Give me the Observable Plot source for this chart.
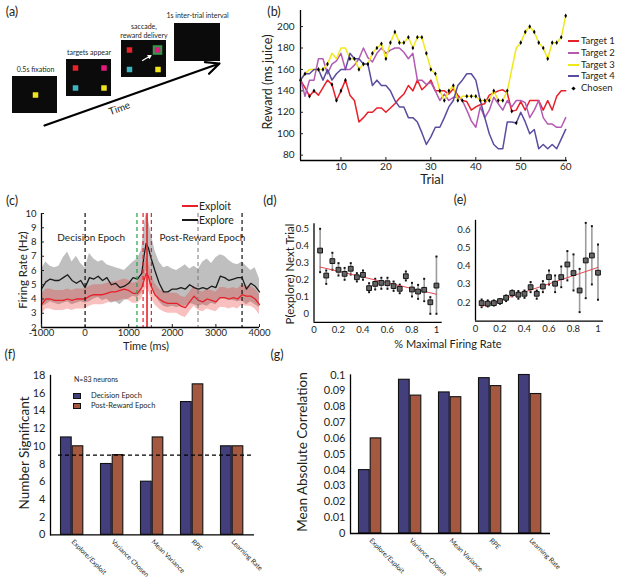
<!DOCTYPE html>
<html>
<head>
<meta charset="utf-8">
<script src="https://cdn.jsdelivr.net/npm/d3@7"></script>
<script src="https://cdn.jsdelivr.net/npm/@observablehq/plot@0.6"></script>
<style>
  html,body{margin:0;padding:0;background:#fff;}
  #root{position:relative;width:617px;height:588px;overflow:hidden;background:#fff;font-family:Lato,"Open Sans",sans-serif;color:#231f20;}
  #root .t{position:absolute;white-space:nowrap;line-height:1;}
  #root svg{position:absolute;overflow:visible;}
</style>
</head>
<body>
<div id="root"></div>
<script>
// ================= DATA =================
// (a) task schematic
const aScreens = [
  {x1:12, y1:76, x2:57, y2:113},
  {x1:66, y1:59, x2:111, y2:96},
  {x1:121, y1:40, x2:166, y2:77},
  {x1:174, y1:23, x2:220, y2:61}
];
const aSquares = [
  {x:35, y:94.5, c:"#f2e41c"},
  {x:75, y:67.5, c:"#ea2229"}, {x:103.5, y:67.5, c:"#e3197f"}, {x:75, y:87.5, c:"#3cb4c2"}, {x:103.5, y:87.5, c:"#f2e41c"},
  {x:129, y:49.5, c:"#ea2229"}, {x:157, y:49.5, c:"#e3197f"}, {x:129, y:69, c:"#3cb4c2"}, {x:157.5, y:69, c:"#f2e41c"}
];
const aHighlight = [{x:157, y:49.5}];
const aLabels = [
  {text:"0.5s fixation", x:35, y:69},
  {text:"targets appear", x:88.5, y:52.5},
  {text:"saccade,", x:143.5, y:26.5},
  {text:"reward delivery", x:143.5, y:35},
  {text:"1s inter-trial interval", x:197, y:15.5}
];
const aTimeArrow = [{x1:44, y1:125, x2:219, y2:63}];
const aSaccadeArrow = [{x1:142, y1:60, x2:150.5, y2:55}];
const aTimeLabel = [{text:"Time", x:119, y:108}];

// (b) reward per trial
const trials = [1,2,3,4,5,6,7,8,9,10,11,12,13,14,15,16,17,18,19,20,21,22,23,24,25,26,27,28,29,30,
                31,32,33,34,35,36,37,38,39,40,41,42,43,44,45,46,47,48,49,50,51,52,53,54,55,56,57,58,59,60];
const target1 = [150,143,135,140,136,143,150,146,131,140,150,136,131,111,115,120,120,124,124,120,
                 124,128,133,137,145,140,150,141,145,150,140,140,140,137,142,136,131,130,122,125,
                 127,128,136,138,140,141,138,121,122,130,122,131,131,131,122,131,122,135,140,140];
const target2 = [152,135,150,150,170,170,156,165,168,175,160,160,164,170,180,171,167,175,180,175,
                 178,180,180,176,170,175,150,150,146,148,140,131,137,131,134,134,131,122,112,106,
                 125,115,122,134,128,122,131,125,131,131,129,115,122,131,115,109,109,106,106,115];
const target3 = [150,156,160,160,160,160,165,175,170,180,180,170,170,160,165,165,175,180,184,170,
                 185,195,185,185,190,180,190,190,175,160,156,140,131,140,145,131,135,135,135,135,
                 131,131,131,140,131,131,140,160,180,185,195,200,195,185,180,170,185,185,190,210];
const target4 = [150,156,156,160,160,150,160,150,156,160,160,175,170,170,165,165,145,150,145,145,
                 140,131,125,125,115,115,111,101,90,97,106,106,115,125,131,145,150,156,156,150,
                 131,115,100,90,86,86,111,111,110,120,111,100,104,86,90,86,90,86,95,104];
const chosen = [3,3,1,1,3,3,3,1,1,1,1,3,3,3,3,3,3,3,3,3,
                3,3,3,3,3,3,3,3,3,3,3,3,3,3,3,3,1,3,3,3,
                3,3,3,3,3,3,3,1,4,3,3,3,3,3,3,3,3,3,3,3];
const tgtNames = ["Target 1","Target 2","Target 3","Target 4"];
const tgtColors = ["#e8202a","#b35bb3","#f1e81a","#5a4c9f"];
const bXTicks = [10,20,30,40,50,60];
const bYTicks = [80,100,120,140,160,180,200];

// (c) firing rate
const timeMs = [-1000,-900,-800,-700,-600,-500,-400,-300,-200,-100,0,100,200,300,400,500,600,700,800,900,
                1000,1100,1200,1300,1350,1400,1450,1500,1600,1700,1800,1900,2000,2100,2200,2300,2400,2500,
                2600,2700,2800,2900,3000,3100,3200,3300,3400,3500,3600,3700,3800,3900,4000];
const exploreMean = [4.7,5.2,5.4,5.3,5.3,5.5,5.7,5.3,5.1,5.3, 4.8,5.5,5.4,5.6,5.3,5.5,5.0,5.1,4.8,4.9,
                     5.1,5.5,5.4,5.8, 7.0,7.9,7.6,7.0, 6.0,5.1,4.5,4.5,4.7,4.7,4.8,4.7,5.0,4.8,
                     4.7,4.8,4.7,4.9,4.8,5.6,5.5,5.3,5.4,5.5, 5.5,4.7,5.1,4.9,4.5];
const exploreHi = [6.1,6.6,6.3,6.2,6.3,6.9,7.3,6.6,7.0,6.5, 6.2,7.2,6.8,6.6,6.7,6.4,6.3,6.2,6.1,6.0,
                   6.3,6.6,6.8,7.5, 9.0,10.0,9.6,8.8, 7.4,6.6,6.2,6.3,6.1,6.0,6.2,6.4,6.1,6.3,
                   6.1,6.6,6.8,6.5,6.9,7.1,7.0,6.7,6.5,6.4, 6.6,6.3,6.0,6.2,5.4];
const exploreLo = [3.5,3.6,3.8,3.7,3.6,3.7,3.8,3.6,3.7,3.8, 3.7,3.8,4.0,4.1,3.9,4.0,3.7,3.8,3.6,3.9,
                   4.0,4.2,4.1,4.4, 5.2,6.0,5.6,5.0, 4.4,3.8,3.5,3.4,3.5,3.4,3.5,3.5,3.7,3.6,
                   3.5,3.6,3.5,3.7,3.6,4.0,4.0,3.9,3.9,3.8, 3.9,3.6,3.8,3.6,3.4];
const exploitMean = [3.6,4.0,4.0,3.9,3.9,3.9,4.0,3.9,4.0,4.0, 4.0,4.2,4.3,4.3,4.3,4.4,4.5,4.5,4.6,4.7,
                     4.6,4.4,4.4,4.8, 5.3,5.8,5.6,5.0, 4.3,4.0,3.8,3.7,3.7,3.7,3.5,3.4,3.8,4.2,
                     3.9,3.8,4.0,3.9,3.8,4.1,4.1,4.0,4.1,4.0, 4.3,4.2,4.2,4.0,3.6];
const exploitHi = [4.3,4.7,4.7,4.6,4.6,4.6,4.7,4.6,4.7,4.7, 4.7,4.9,5.0,5.0,5.0,5.1,5.2,5.2,5.3,5.4,
                   5.3,5.1,5.2,5.6, 6.3,7.0,6.7,5.9, 5.1,4.7,4.5,4.4,4.4,4.4,4.2,4.1,4.5,4.9,
                   4.6,4.5,4.7,4.6,4.5,4.8,4.8,4.7,4.8,4.7, 5.0,4.9,4.9,4.7,4.3];
const exploitLo = [2.9,3.3,3.3,3.2,3.2,3.2,3.3,3.2,3.3,3.3, 3.3,3.5,3.6,3.6,3.6,3.7,3.8,3.8,3.9,4.0,
                   3.9,3.7,3.7,4.0, 4.4,4.8,4.6,4.2, 3.6,3.3,3.1,3.0,3.0,3.0,2.8,2.7,3.1,3.5,
                   3.2,3.1,3.3,3.2,3.1,3.4,3.4,3.3,3.4,3.3, 3.6,3.5,3.5,3.3,2.9];
const cEventLines = [
  {t:0, color:"#111", dash:"4,3", w:1.2},
  {t:1190, color:"#23a04a", dash:"4,3", w:1.2},
  {t:1330, color:"#e8202a", dash:"4,3", w:1.2},
  {t:1420, color:"#e8202a", dash:null, w:1.6},
  {t:1520, color:"#e8202a", dash:"4,3", w:1.2},
  {t:2590, color:"#777", dash:"4,3", w:1},
  {t:3600, color:"#111", dash:"4,3", w:1.2}
];
const cEpochLabels = [{text:"Decision Epoch", t:140, hz:8.26}, {text:"Post-Reward Epoch", t:2690, hz:8.26}];
const cXTicks = [-1000,0,1000,2000,3000,4000];
const cYTicks = [2,3,4,5,6,7,8,9,10];

// (d) P(explore) vs firing rate (decision epoch)
const fracRate = [0.05,0.1,0.15,0.2,0.25,0.3,0.35,0.4,0.45,0.5,0.55,0.6,0.65,0.7,0.75,0.8,0.85,0.9,0.95,1.0];
const dMean = [0.372,0.225,0.31,0.259,0.235,0.265,0.215,0.229,0.151,0.176,0.182,0.18,0.163,0.147,0.221,0.143,0.131,0.141,0.068,0.166];
const dLo   = [0.245,0.176,0.259,0.225,0.2,0.231,0.19,0.2,0.127,0.143,0.147,0.147,0.135,0.121,0.196,0.102,0.088,0.074,0.0,0.0];
const dHi   = [0.5,0.255,0.359,0.298,0.27,0.298,0.239,0.255,0.18,0.206,0.212,0.212,0.19,0.172,0.249,0.182,0.17,0.206,0.098,0.337];
const dFitX = [0.05,1.0], dFitY = [0.275,0.115];
const dXTicks = [0,0.2,0.4,0.6,0.8,1], dYTicks = [0,0.1,0.2,0.3,0.4,0.5];

// (e) (post-reward epoch)
const eMean = [0.198,0.195,0.198,0.209,0.227,0.253,0.244,0.249,0.285,0.249,0.289,0.34,0.304,0.34,0.409,0.362,0.267,0.431,0.458,0.364];
const eLo   = [0.176,0.18,0.185,0.195,0.209,0.235,0.222,0.227,0.258,0.222,0.258,0.3,0.258,0.285,0.322,0.267,0.149,0.225,0.3,0.216];
const eHi   = [0.218,0.213,0.213,0.22,0.24,0.267,0.264,0.267,0.313,0.267,0.318,0.376,0.349,0.398,0.482,0.464,0.385,0.636,0.618,0.518];
const eFitX = [0.05,1.0], eFitY = [0.18,0.393];
const eXTicks = [0,0.2,0.4,0.6,0.8,1], eYTicks = [0.2,0.3,0.4,0.5,0.6];

// (f), (g) bars
const regressors = ["Explore/Exploit","Variance Chosen","Mean Variance","RPE","Learning Rate"];
const epochNames = ["Decision Epoch","Post-Reward Epoch"];
const epochColors = ["#433f7d","#a3583f"];
const fDecision = [11,8,6,15,10];
const fPost = [10,9,11,17,10];
const fChance = 9;
const fYTicks = [0,2,4,6,8,10,12,14,16,18];
const gDecision = [0.04,0.097,0.089,0.098,0.1];
const gPost = [0.06,0.087,0.086,0.093,0.088];
const gYTicks = [0,0.01,0.02,0.03,0.04,0.05,0.06,0.07,0.08,0.09,0.1];

// ================= HELPERS =================
const FONT = "Lato, 'Open Sans', sans-serif";
const INK = "#231f20";
const root = document.getElementById("root");
function place(svg, left, top){ svg.style.left = left + "px"; svg.style.top = top + "px"; root.appendChild(svg); }
function txt(s, x, y, size, opts = {}){
  const d = document.createElement("div");
  d.className = "t"; d.textContent = s;
  d.style.left = x + "px"; d.style.top = y + "px"; d.style.fontSize = size + "px";
  const ax = opts.anchor === "start" ? "0" : "-50%";
  d.style.transform = `translate(${ax},-50%)`;
  if (opts.rotate) { d.style.transformOrigin = "0 0"; d.style.transform = `rotate(${opts.rotate}deg) translate(-50%,-50%)`; }
  root.appendChild(d); return d;
}
function lineSwatch(x, y, w, color, th){
  const d = document.createElement("div");
  d.style.cssText = `position:absolute;left:${x}px;top:${y - th/2}px;width:${w}px;height:${th}px;background:${color};`;
  root.appendChild(d);
}
function boxSwatch(x, y, w, h, color){
  const d = document.createElement("div");
  d.style.cssText = `position:absolute;left:${x}px;top:${y}px;width:${w}px;height:${h}px;background:${color};border:1px solid #111;box-sizing:border-box;`;
  root.appendChild(d);
}
const baseStyle = {fontFamily: FONT, color: INK, background: "transparent", overflow: "visible"};

// ================= (a) =================
const aPlot = Plot.plot({
  width: 260, height: 190, marginTop: 0, marginRight: 0, marginBottom: 0, marginLeft: 0,
  x: {domain: [0, 260], range: [0, 260], axis: null},
  y: {domain: [0, 190], range: [0, 190], axis: null},
  color: {type: "identity"},
  style: {...baseStyle, fontSize: "7px"},
  marks: [
    Plot.rect(aScreens, {x1: "x1", x2: "x2", y1: "y1", y2: "y2", fill: "#0b0b0b"}),
    Plot.dot(aHighlight, {x: "x", y: "y", symbol: "square", r: 5.4, fill: "#2f9a47"}),
    Plot.dot(aSquares, {x: "x", y: "y", symbol: "square", r: 3.1, fill: "c"}),
    Plot.arrow(aSaccadeArrow, {x1: "x1", y1: "y1", x2: "x2", y2: "y2", stroke: "#fff", strokeWidth: 1.2, headLength: 4}),
    Plot.arrow(aTimeArrow, {x1: "x1", y1: "y1", x2: "x2", y2: "y2", stroke: "#000", strokeWidth: 2.2, headLength: 10, headAngle: 50}),
    Plot.text(aLabels, {x: "x", y: "y", text: "text", fontSize: 7, fill: INK}),
    Plot.text(aTimeLabel, {x: "x", y: "y", text: "text", fontSize: 10, rotate: -20, fill: INK})
  ]
});
place(aPlot, 0, 0);

// ================= (b) =================
const bSeries = [target1, target2, target3, target4];
const bRows = tgtNames.flatMap((name, i) => trials.map((t, j) => ({name, t, v: bSeries[i][j]})));
const chosenRows = trials.map((t, j) => ({t, v: bSeries[chosen[j] - 1][j]}));
const bPlot = Plot.plot({
  width: 310, height: 185, marginLeft: 40, marginRight: 3, marginTop: 10, marginBottom: 25,
  style: {...baseStyle, fontSize: "10px"},
  x: {domain: [1, 60.4]},
  y: {domain: [75, 215]},
  color: {domain: tgtNames, range: tgtColors},
  marks: [
    Plot.lineY(bRows, {x: "t", y: "v", stroke: "name", strokeWidth: 1.5}),
    Plot.dot(chosenRows, {x: "t", y: "v", symbol: "diamond", r: 1.4, fill: "#000"}),
    Plot.ruleX([1], {stroke: "#000", strokeWidth: 1.3}),
    Plot.ruleY([75], {stroke: "#000", strokeWidth: 1.3}),
    Plot.axisX({ticks: bXTicks, tickFormat: d => String(d), tickSize: -3, tickPadding: 5, label: null, fontSize: 10, fill: INK}),
    Plot.axisY({ticks: bYTicks, tickFormat: d => String(d), tickSize: -3, tickPadding: 9, label: null, fontSize: 10, fill: INK})
  ]
});
place(bPlot, 260, 0);
txt("Reward (ms juice)", 268, 82, 12.5, {rotate: -90});
txt("Trial", 432, 179, 13);
tgtNames.forEach((n, i) => {
  const y = 41 + 11.75 * i;
  lineSwatch(568, y, 11, tgtColors[i], 2);
  txt(n, 581, y, 9.5, {anchor: "start"});
});
{
  const y = 41 + 11.75 * 4;
  const d = document.createElement("div");
  d.style.cssText = `position:absolute;left:571.5px;top:${y - 1.5}px;width:3px;height:3px;background:#000;transform:rotate(45deg);`;
  root.appendChild(d);
  txt("Chosen", 581, y, 9.5, {anchor: "start"});
}

// ================= (c) =================
const exploreRows = timeMs.map((t, i) => ({t, m: exploreMean[i], lo: exploreLo[i], hi: exploreHi[i]}));
const exploitRows = timeMs.map((t, i) => ({t, m: exploitMean[i], lo: exploitLo[i], hi: exploitHi[i]}));
const cPlot = Plot.plot({
  width: 275, height: 160, marginLeft: 41, marginRight: 16, marginTop: 18, marginBottom: 28,
  style: {...baseStyle, fontSize: "9.5px"},
  x: {domain: [-1000, 4000]},
  y: {domain: [2, 10]},
  marks: [
    Plot.areaY(exploreRows, {x: "t", y1: "lo", y2: "hi", fill: "#bfbfbf", clip: true}),
    Plot.areaY(exploitRows, {x: "t", y1: "lo", y2: "hi", fill: "#e8322f", fillOpacity: 0.3, clip: true}),
    Plot.lineY(exploreRows, {x: "t", y: "m", stroke: "#1a1a1a", strokeWidth: 1.3}),
    Plot.lineY(exploitRows, {x: "t", y: "m", stroke: "#e8202a", strokeWidth: 1.3}),
    ...cEventLines.map(l => Plot.ruleX([l], {x: "t", stroke: l.color, strokeWidth: l.w, strokeDasharray: l.dash || undefined})),
    Plot.text(cEpochLabels, {x: "t", y: "hz", text: "text", fontSize: 10, fill: INK}),
    Plot.ruleX([-1000], {stroke: "#000", strokeWidth: 1.3}),
    Plot.ruleY([2], {stroke: "#000", strokeWidth: 1.3}),
    Plot.axisX({ticks: cXTicks, tickFormat: d => String(d), tickSize: -3, tickPadding: 5, label: null, fill: INK}),
    Plot.axisY({ticks: cYTicks, tickFormat: d => String(d), tickSize: -3, tickPadding: 8, label: null, fill: INK})
  ]
});
place(cPlot, 0, 195);
txt("Firing Rate (Hz)", 23, 270, 11.5, {rotate: -90});
txt("Time (ms)", 146, 345, 11);
lineSwatch(182, 206, 16, "#e8202a", 2);
txt("Exploit", 199, 206, 10.5, {anchor: "start"});
lineSwatch(182, 220, 16, "#1a1a1a", 2);
txt("Explore", 199, 220, 10.5, {anchor: "start"});

// ================= (d), (e) =================
function scatterPanel(mean, lo, hi, fitX, fitY, opts){
  const rows = fracRate.map((x, i) => ({x, m: mean[i], lo: lo[i], hi: hi[i]}));
  const fit = fitX.map((x, i) => ({x, y: fitY[i]}));
  return Plot.plot({
    width: opts.width, height: opts.height, marginLeft: opts.ml, marginRight: opts.mr, marginTop: opts.mt, marginBottom: opts.mb,
    style: {...baseStyle, fontSize: "9.5px"},
    x: {domain: opts.xDomain},
    y: {domain: opts.yDomain},
    marks: [
      Plot.ruleX(rows, {x: "x", y1: "lo", y2: "hi", stroke: "#9c9c9c", strokeWidth: 1.6}),
      Plot.dot(rows, {x: "x", y: "lo", symbol: "square", r: 1.1, fill: "#111"}),
      Plot.dot(rows, {x: "x", y: "hi", symbol: "square", r: 1.1, fill: "#111"}),
      Plot.line(fit, {x: "x", y: "y", stroke: "#e2474f", strokeWidth: 1}),
      Plot.dot(rows, {x: "x", y: "m", symbol: "square", r: 2.7, fill: "#666", stroke: "#151515", strokeWidth: 1}),
      Plot.ruleX([opts.xDomain[0]], {stroke: "#000", strokeWidth: 1.3}),
      Plot.ruleY([opts.yDomain[0]], {stroke: "#000", strokeWidth: 1.3}),
      Plot.axisX({ticks: opts.xTicks, tickFormat: d => String(d), tickSize: 0, tickPadding: 4, label: null, fill: INK}),
      Plot.axisY({ticks: opts.yTicks, tickFormat: d => String(d), tickSize: 0, tickPadding: 5, label: null, fill: INK})
    ]
  });
}
const dPlot = scatterPanel(dMean, dLo, dHi, dFitX, dFitY,
  {width: 165, height: 150, ml: 33.5, mr: 3.3, mt: 23.2, mb: 28.2, xDomain: [0, 1.047], yDomain: [-0.05, 0.53], xTicks: dXTicks, yTicks: dYTicks});
place(dPlot, 280, 200);
const ePlot = scatterPanel(eMean, eLo, eHi, eFitX, eFitY,
  {width: 160, height: 150, ml: 25, mr: 7, mt: 19.8, mb: 29.4, xDomain: [0, 1.045], yDomain: [0.1, 0.65], xTicks: eXTicks, yTicks: eYTicks});
place(ePlot, 450, 200);
txt("P(explore) Next Trial", 290, 274, 11.5, {rotate: -90});
txt("% Maximal Firing Rate", 448, 343, 11);

// ================= (f), (g) =================
function barPanel(dec, post, opts){
  const decRows = regressors.map((c, i) => ({c, v: dec[i]}));
  const postRows = regressors.map((c, i) => ({c, v: post[i]}));
  const marks = [
    Plot.barY(decRows, {x: "c", y: "v", fill: epochColors[0], stroke: "#111", strokeWidth: 1.1, insetLeft: 8.5, insetRight: 20.8}),
    Plot.barY(postRows, {x: "c", y: "v", fill: epochColors[1], stroke: "#111", strokeWidth: 1.1, insetLeft: 20.2, insetRight: 9.2}),
    Plot.ruleY([0], {stroke: "#000", strokeWidth: 1.3}),
    Plot.frame({anchor: "left", stroke: "#000", strokeWidth: 1.3}),
    Plot.axisY({ticks: opts.yTicks, tickFormat: d => String(d), tickSize: 0, tickPadding: 5, label: null, fontSize: 11, fill: INK}),
    Plot.axisX({tickRotate: 45, tickSize: 0, tickPadding: 6, textAnchor: "start", label: null, fontSize: 6.8, fill: INK})
  ];
  if (opts.extra) marks.push(...opts.extra);
  return Plot.plot({
    width: opts.width, height: 228, marginLeft: opts.ml, marginRight: opts.mr, marginTop: opts.mt, marginBottom: opts.mb,
    style: {...baseStyle, fontSize: "11px"},
    x: {type: "band", domain: regressors, paddingInner: 0, paddingOuter: opts.po},
    y: {domain: opts.yDomain},
    marks
  });
}
const fPlot = barPanel(fDecision, fPost, {width: 260, ml: 50, mr: 6, mt: 15, mb: 53.7, po: 0.05, yDomain: [0, 18], yTicks: fYTicks,
  extra: [Plot.ruleY([fChance], {stroke: "#000", strokeWidth: 1.2, strokeDasharray: "4,3", insetLeft: 8})]});
place(fPlot, 0, 360);
const gPlot = barPanel(gDecision, gPost, {width: 260, ml: 50, mr: 10, mt: 14.5, mb: 55, po: 0, yDomain: [0, 0.1], yTicks: gYTicks});
place(gPlot, 300, 360);
txt("Number Significant", 25, 453, 13.5, {rotate: -90});
txt("Mean Absolute Correlation", 303, 452, 13.5, {rotate: -90});
txt("N=83 neurons", 74, 379, 7, {anchor: "start"});
boxSwatch(73, 392.5, 8, 6.5, epochColors[0]);
txt(epochNames[0], 91, 396, 7.5, {anchor: "start"});
boxSwatch(73, 402.5, 8, 6.5, epochColors[1]);
txt(epochNames[1], 91, 406, 7.5, {anchor: "start"});

// ================= panel letters =================
[["(a)", 12, 12], ["(b)", 274, 12], ["(c)", 12, 201], ["(d)", 270, 201], ["(e)", 460, 200], ["(f)", 10, 355], ["(g)", 277, 355]]
  .forEach(([s, x, y]) => txt(s, x, y, 12.5));
</script>
</body>
</html>
